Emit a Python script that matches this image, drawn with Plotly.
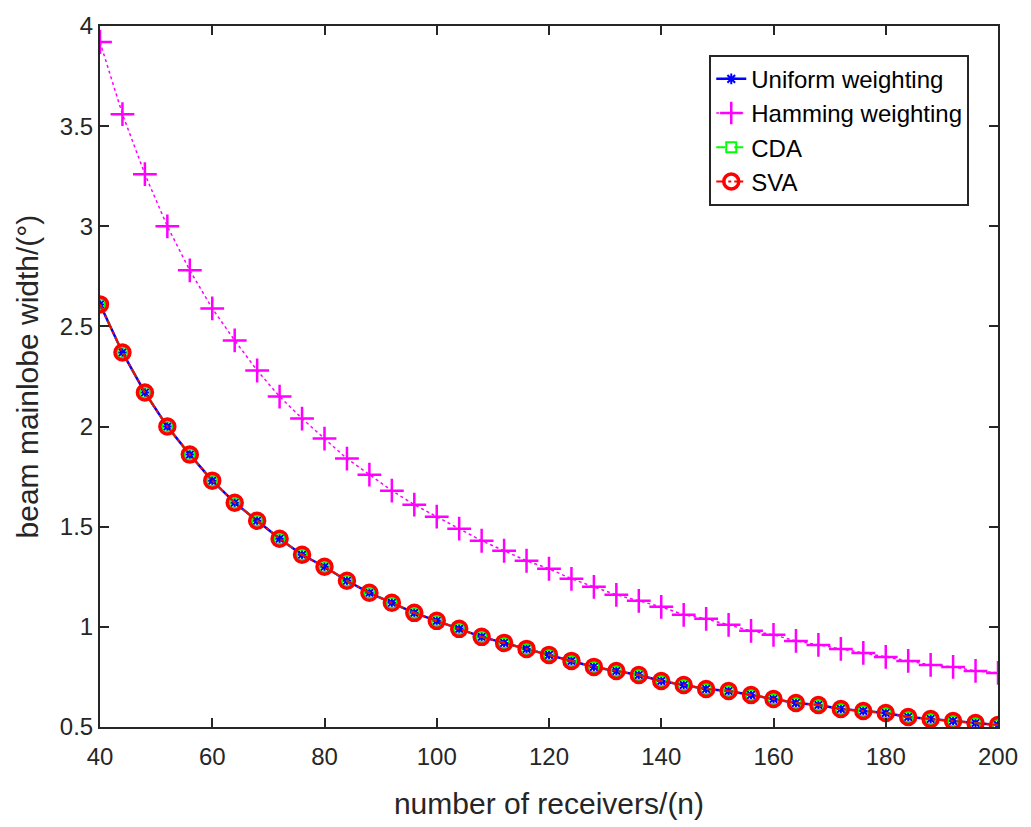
import plotly.graph_objects as go

receivers = list(range(40, 201, 4))
uniform = [2.61, 2.37, 2.17, 2.00, 1.86, 1.73, 1.62, 1.53, 1.44, 1.36, 1.30, 1.23, 1.17, 1.12, 1.07, 1.03,
           0.99, 0.95, 0.92, 0.89, 0.86, 0.83, 0.80, 0.78, 0.76, 0.73, 0.71, 0.69, 0.68, 0.66, 0.64, 0.62,
           0.61, 0.59, 0.58, 0.57, 0.55, 0.54, 0.53, 0.52, 0.51]
hamming = [3.92, 3.56, 3.26, 3.00, 2.78, 2.59, 2.43, 2.28, 2.15, 2.04, 1.94, 1.84, 1.76, 1.68, 1.61, 1.55,
           1.49, 1.43, 1.38, 1.33, 1.29, 1.24, 1.20, 1.16, 1.13, 1.10, 1.06, 1.04, 1.01, 0.98, 0.96, 0.93,
           0.91, 0.89, 0.87, 0.85, 0.83, 0.81, 0.80, 0.78, 0.77]
cda = list(uniform)
sva = list(uniform)
x_ticks = [40, 60, 80, 100, 120, 140, 160, 180, 200]
y_ticks = [0.5, 1, 1.5, 2, 2.5, 3, 3.5, 4]
y_tick_text = ["0.5", "1", "1.5", "2", "2.5", "3", "3.5", "4"]
x_title = "number of receivers/(n)"
y_title = "beam mainlobe width/(°)"

FONT = "Liberation Sans, Arial, Helvetica, sans-serif"
INK = "#262626"

fig = go.Figure()
fig.add_trace(go.Scatter(
    x=receivers, y=uniform, name="Uniform weighting", mode="lines+markers",
    line=dict(color="#0000ff", width=2.5, dash="solid"),
    marker=dict(symbol="asterisk-open", size=9, color="#0000ff", line=dict(color="#0000ff", width=2)),
))
fig.add_trace(go.Scatter(
    x=receivers, y=hamming, name="Hamming weighting", mode="lines+markers",
    line=dict(color="#ff00ff", width=1.5, dash="dot"),
    marker=dict(symbol="cross-thin-open", size=17, color="#ff00ff", line=dict(color="#ff00ff", width=2.5)),
))
fig.add_trace(go.Scatter(
    x=receivers, y=cda, name="CDA", mode="lines+markers",
    line=dict(color="#00ff00", width=2, dash="dash"),
    marker=dict(symbol="square-open", size=10, color="#00ff00", line=dict(color="#00ff00", width=2)),
))
fig.add_trace(go.Scatter(
    x=receivers, y=sva, name="SVA", mode="lines+markers",
    line=dict(color="#ff0000", width=2, dash="dashdot"),
    marker=dict(symbol="circle-open", size=15, color="#ff0000", line=dict(color="#ff0000", width=3.5)),
))

axis_common = dict(
    showgrid=False, zeroline=False, showline=True, linecolor=INK, linewidth=2,
    mirror="ticks", ticks="inside", ticklen=9, tickwidth=1.5, tickcolor=INK,
    tickfont=dict(family=FONT, size=24, color=INK),
)
fig.update_xaxes(range=[40, 200], tickvals=x_ticks, ticklabelstandoff=7,
                 title=dict(text=x_title, font=dict(family=FONT, size=30, color=INK), standoff=24),
                 **axis_common)
fig.update_yaxes(range=[0.5, 4], tickvals=y_ticks, ticktext=y_tick_text, **axis_common)

fig.add_annotation(text=y_title, xref="paper", yref="paper", x=-0.0802, y=0.5,
                   xanchor="center", yanchor="middle", textangle=-90, showarrow=False,
                   font=dict(family=FONT, size=30, color=INK))

fig.update_layout(
    width=1031, height=827,
    margin=dict(l=100, r=33, t=23, b=97),
    plot_bgcolor="white", paper_bgcolor="white",
    legend=dict(x=0.968, y=0.959, xanchor="right", yanchor="top",
                bgcolor="white", bordercolor=INK, borderwidth=2,
                font=dict(family=FONT, size=24, color="black"),
                tracegroupgap=0),
    showlegend=True,
)

fig.write_html("out.html", config={"displayModeBar": False},
               post_script="document.body.style.margin='0';document.body.style.padding='0';")
